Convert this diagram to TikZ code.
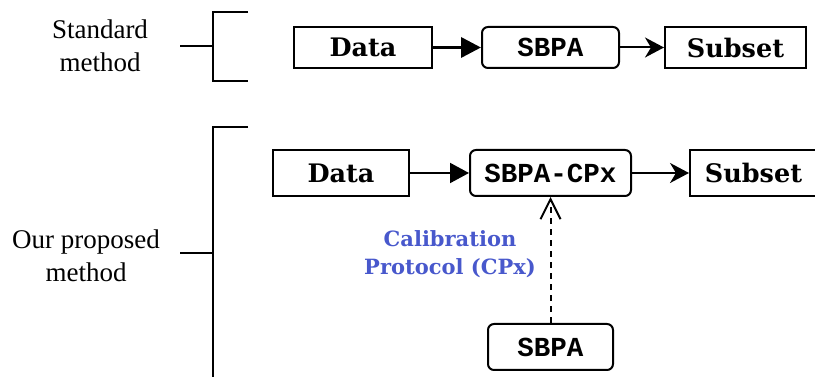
\documentclass[tikz,border=0pt]{standalone}
\usepackage{fontspec}
\setmainfont{Liberation Serif}
\setmonofont{Liberation Mono}
\newfontfamily\headfont{DejaVu Serif}
\usetikzlibrary{arrows.meta,positioning}
\definecolor{calblue}{RGB}{72,88,204}

\begin{document}
\begin{tikzpicture}[x=1pt,y=1pt,
 box/.style={draw,line width=2pt,inner sep=0pt,minimum height=41pt,font=\headfont\bfseries\fontsize{25.5}{28}\selectfont},
 algo/.style={box,rounded corners=6pt,font=\ttfamily\bfseries\fontsize{27.5}{30}\selectfont},
 side/.style={align=center,font=\fontsize{27}{33}\selectfont},
 bracket/.style={line width=2pt},
 link/.style={line width=2pt,-{Stealth[length=19pt,width=20pt,inset=6pt]}},
 solid link/.style={line width=2pt,-{Triangle[length=19pt,width=20pt]}},
 call/.style={line width=2pt,dash pattern=on 6pt off 5pt,-{Straight Barb[length=20pt,width=20pt]}}]
\useasboundingbox (0,0) rectangle (815,377);
\node[side] (std) at (100,331) {Standard\\method};
\node[side] (ours) at (86,121) {Our proposed\\method};
\draw[bracket] (248,365) -| (213,296) -- (248,296);
\draw[bracket] (180,330.5) -- (213,330.5);
\draw[bracket] (248,250) -| (213,0);
\draw[bracket] (180,124) -- (213,124);
\node[box,minimum width=138pt] (data1) at (363,329.5) {Data};
\node[algo,minimum width=137pt,right=48pt of data1] (sbpa1) {SBPA};
\node[box,minimum width=141pt,right=44pt of sbpa1] (subset1) {Subset};
\node[box,minimum width=136pt,minimum height=46pt] (data2) at (341,204) {Data};
\node[algo,minimum width=161pt,minimum height=46pt,right=59pt of data2] (cpx) {SBPA-CPx};
\node[box,minimum width=127pt,minimum height=46pt,right=57pt of cpx] (subset2) {Subset};
\node[algo,minimum width=125pt,minimum height=46pt,below=126pt of cpx] (sbpa2) {SBPA};
\node[align=center,text=calblue,font=\headfont\bfseries\fontsize{21}{28}\selectfont] (cal) at (450,123) {Calibration\\Protocol (CPx)};
\draw[solid link,line width=3.5pt,-{Triangle[length=20pt,width=20pt]}] (data1) -- (sbpa1);
\draw[link] (sbpa1) -- (subset1);
\draw[solid link] (data2) -- (cpx);
\draw[link] (cpx) -- (subset2);
\draw[call] (sbpa2) -- (cpx);
\end{tikzpicture}
\end{document}
